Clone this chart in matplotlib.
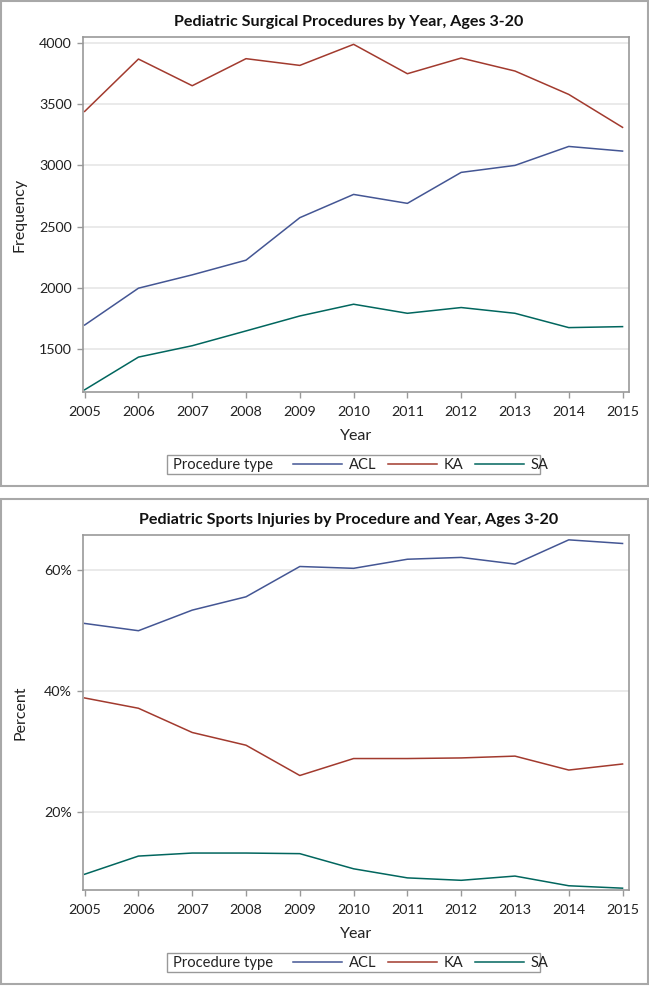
import matplotlib
matplotlib.use('Agg')
import matplotlib.pyplot as plt
from matplotlib.lines import Line2D
from matplotlib.patches import Rectangle
from matplotlib.ticker import FuncFormatter

plt.rcParams['font.family'] = ['Lato', 'DejaVu Sans']

years = list(range(2005, 2016))
procedures = ['ACL', 'KA', 'SA']
colors = ['#445694', '#A23A2E', '#01665E']

# counts per year
freq_acl = [1696, 1997, 2106, 2226, 2573, 2763, 2690, 2943, 3000, 3155, 3117]
freq_ka = [3441, 3869, 3651, 3872, 3817, 3989, 3749, 3877, 3771, 3580, 3311]
freq_sa = [1167, 1434, 1527, 1648, 1770, 1866, 1792, 1839, 1792, 1675, 1683]

# percent of sports injuries per year
pct_acl = [51.2, 50.0, 53.4, 55.6, 60.6, 60.3, 61.8, 62.1, 61.0, 65.0, 64.4]
pct_ka = [38.9, 37.2, 33.2, 31.1, 26.1, 28.9, 28.9, 29.0, 29.3, 27.0, 28.0]
pct_sa = [9.8, 12.8, 13.3, 13.3, 13.2, 10.7, 9.2, 8.8, 9.5, 7.9, 7.5]

W, H = 649, 986
fig = plt.figure(figsize=(W / 100, H / 100), dpi=100)


def fx(px):
    return px / W


def fy(py):
    return 1 - py / H


def draw_panel(top, series, title, ylabel, yticks, ylim, fmt):
    # top is the pixel offset of the panel
    fig.patches.append(Rectangle((fx(1), fy(top + 486)), fx(647), (485) / H,
                                 transform=fig.transFigure, fill=False,
                                 edgecolor='#A8A8A8', lw=1.5))
    ax = fig.add_axes([fx(82.5), fy(top + 392), fx(546.5), (392 - 37) / H])
    for vals, name, c in zip(series, procedures, colors):
        ax.plot(years, vals, color=c, lw=1.1, label=name)
    ax.set_xlim(2004.96, 2015.12)
    ax.set_ylim(*ylim)
    ax.set_xticks(years)
    ax.set_yticks(yticks)
    ax.yaxis.set_major_formatter(FuncFormatter(fmt))
    ax.grid(axis='y', color='#E6E6E6', lw=1.2)
    ax.set_axisbelow(True)
    for s in ax.spines.values():
        s.set_color('#999999')
        s.set_linewidth(1.2)
    ax.tick_params(direction='out', length=4.3, width=1, color='#999999',
                   labelsize=10.3, pad=3.5, labelcolor='#222222')
    ax.tick_params(axis='x', pad=6)
    ax.set_xlabel('Year', fontsize=11.5, labelpad=8, color='#222222')
    fig.text(fx(20), fy(top + 215), ylabel, rotation=90, fontsize=11.5,
             ha='center', va='center', color='#222222')
    fig.text(fx(349), fy(top + 22), title, fontsize=11.6, fontweight='bold',
             ha='center', va='center', color='#111111')

    # legend row
    fig.patches.append(Rectangle((fx(167), fy(top + 474)), fx(373), 19 / H,
                                 transform=fig.transFigure, fill=False,
                                 edgecolor='#999999', lw=1))
    fig.text(fx(173), fy(top + 465), 'Procedure type', fontsize=10.6,
             ha='left', va='center', color='#222222')
    handles = [Line2D([], [], color=c, lw=1.1) for c in colors]
    fig.legend(handles, procedures, ncol=3, frameon=False, loc='center left',
               bbox_to_anchor=(fx(293), fy(top + 465)), borderpad=0,
               borderaxespad=0, handlelength=3.3, handletextpad=0.48,
               columnspacing=0.8, fontsize=10.6, labelcolor='#222222')
    return ax


draw_panel(0, [freq_acl, freq_ka, freq_sa],
           'Pediatric Surgical Procedures by Year, Ages 3-20', 'Frequency',
           [1500, 2000, 2500, 3000, 3500, 4000], (1149, 4049),
           lambda v, p: f'{v:.0f}')

draw_panel(498, [pct_acl, pct_ka, pct_sa],
           'Pediatric Sports Injuries by Procedure and Year, Ages 3-20', 'Percent',
           [20, 40, 60], (7.2, 65.8),
           lambda v, p: f'{v:.0f}%')

fig.savefig('out.png', dpi=100)
